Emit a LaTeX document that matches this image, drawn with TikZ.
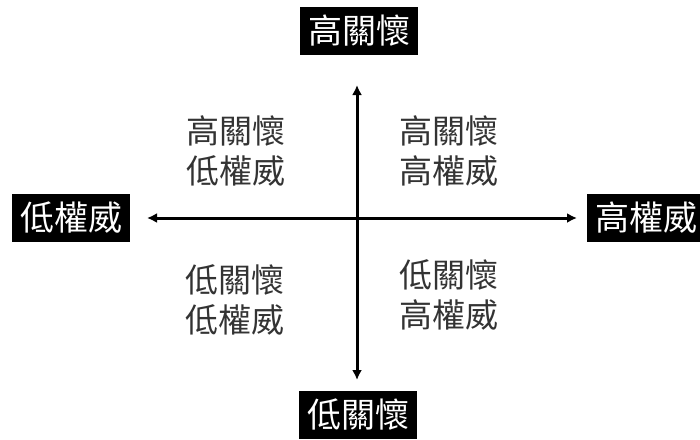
\documentclass[tikz,border=0pt]{standalone}
\usepackage{fontspec}
\newfontfamily\cjk{Noto Sans CJK TC}
\usetikzlibrary{arrows.meta}
\begin{document}
\begin{tikzpicture}[x=1pt,y=-1pt,
  axislabel/.style={fill=black,text=white,font=\cjk\fontsize{34}{36}\selectfont,minimum width=118pt,minimum height=48pt,inner sep=0pt},
  quad/.style={text=black!80,font=\cjk\fontsize{33}{40}\selectfont,align=center,inner sep=0pt},
  axis/.style={line width=3pt,{Latex[length=10pt,width=10pt]}-{Latex[length=10pt,width=10pt]}}]
\useasboundingbox (0,0) rectangle (700,439);
\node[axislabel] (top) at (359,31) {高關懷};
\node[axislabel] (bot) at (358,415) {低關懷};
\node[axislabel] (left) at (71,218) {低權威};
\node[axislabel] (right) at (646,218) {高權威};
\coordinate (vt) at (357,85);
\coordinate (vb) at (357,380);
\coordinate (hl) at (147,218);
\coordinate (hr) at (577,218);
\draw[axis] (vb) -- (vt);
\draw[axis] (hl) -- (hr);
\node[quad] (q1) at (236,151) {高關懷\\低權威};
\node[quad] (q2) at (449,151) {高關懷\\高權威};
\node[quad] (q3) at (235,300) {低關懷\\低權威};
\node[quad] (q4) at (449,295) {低關懷\\高權威};
\end{tikzpicture}
\end{document}
